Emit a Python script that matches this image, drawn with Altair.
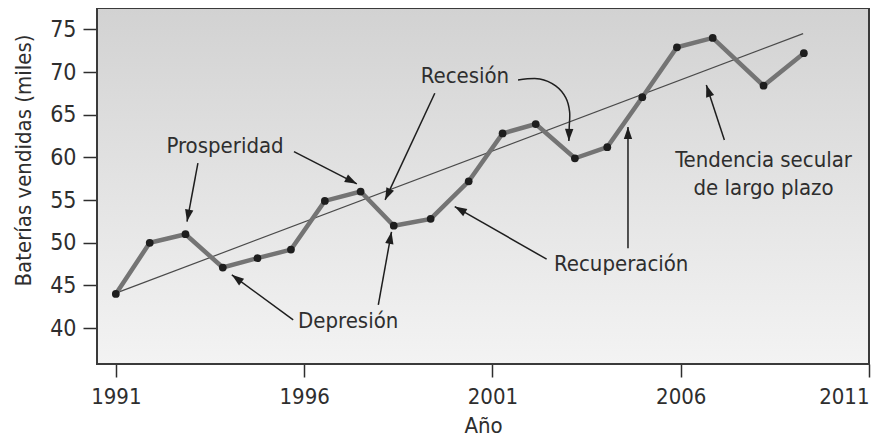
import math
import altair as alt
import pandas as pd

# ---------------- data ----------------
years = [1991.0, 1991.9, 1992.85, 1993.84, 1994.76, 1995.65, 1996.55, 1997.5,
         1998.38, 1999.36, 2000.37, 2001.27, 2002.15, 2003.19, 2004.05, 2004.98,
         2005.9, 2006.85, 2008.2, 2009.27]
sales = [44.0, 50.0, 51.0, 47.1, 48.2, 49.2, 54.9, 56.0,
         52.0, 52.8, 57.2, 62.8, 63.9, 59.9, 61.2, 67.05,
         72.9, 74.0, 68.4, 72.2]

trend_x = [1991.0, 2009.25]
trend_y = [44.1, 74.5]

x_ticks = [1991, 1996, 2001, 2006, 2011]
y_ticks = [40, 45, 50, 55, 60, 65, 70, 75]

label_text = ["Prosperidad", "Depresión", "Recesión", "Recuperación",
              "Tendencia secular", "de largo plazo"]
label_x = [1993.90, 1997.17, 2000.27, 2004.42, 2008.20, 2008.20]
label_y = [60.53, 40.04, 68.72, 46.71, 58.92, 55.61]

# straight arrows: start -> tip (data coordinates)
arrow_sx = [1993.18, 1995.73, 1995.71, 1997.97, 1999.47, 2002.44, 2004.60, 2007.16]
arrow_sy = [59.32, 60.68, 40.97, 42.73, 67.52, 48.08, 49.37, 62.05]
arrow_tx = [1992.89, 1997.40, 1994.08, 1998.32, 1998.15, 2000.00, 2004.60, 2006.68]
arrow_ty = [52.48, 56.90, 46.24, 51.28, 55.02, 54.24, 63.57, 68.49]

# curved arrow (Recesión -> 2003 dip)
curve_x = [2001.68, 2002.26, 2002.68, 2002.95, 2003.05, 2003.04, 2003.03]
curve_y = [69.07, 69.19, 68.37, 66.97, 65.33, 63.57, 61.93]

# ---------------- layout ----------------
W, H = 772, 356
X_DOM = [1990.5, 2011]
Y_DOM = [35.8, 77.5]
PX_X = W / (X_DOM[1] - X_DOM[0])
PX_Y = H / (Y_DOM[1] - Y_DOM[0])

FONT = "'Liberation Sans Narrow', 'DejaVu Sans Condensed', Roboto, sans-serif"
TXT = "#2e2e2e"

xs = alt.Scale(domain=X_DOM, nice=False, zero=False)
ys = alt.Scale(domain=Y_DOM, nice=False, zero=False)


def head_angle(sx, sy, tx, ty):
    dx = (tx - sx) * PX_X
    dy = -(ty - sy) * PX_Y
    return math.degrees(math.atan2(dx, -dy)) % 360


series_df = pd.DataFrame({"x": years, "y": sales})
trend_df = pd.DataFrame({"x": trend_x, "y": trend_y})
label_df = pd.DataFrame({"x": label_x, "y": label_y, "t": label_text})
arrow_df = pd.DataFrame({"sx": arrow_sx, "sy": arrow_sy, "tx": arrow_tx, "ty": arrow_ty})
curve_df = pd.DataFrame({"x": curve_x, "y": curve_y, "o": list(range(len(curve_x)))})

heads = [(tx, ty, head_angle(sx, sy, tx, ty))
         for sx, sy, tx, ty in zip(arrow_sx, arrow_sy, arrow_tx, arrow_ty)]
heads.append((curve_x[-1], curve_y[-1],
              head_angle(curve_x[-2], curve_y[-2], curve_x[-1], curve_y[-1])))
head_df = pd.DataFrame(heads, columns=["x", "y", "a"])

x_axis = alt.Axis(values=x_ticks, format="d", title="Año", titleY=68,
                  titleBaseline="alphabetic", labelPadding=9, tickSize=13,
                  labelFontSize=22)
y_axis = alt.Axis(values=y_ticks, title="Baterías vendidas (miles)",
                  titleX=-74, titleY=152, titleAngle=270, titleAlign="center",
                  titleBaseline="middle", labelPadding=7, tickSize=14)


def X(f):
    return alt.X(f, scale=xs, axis=x_axis)


def Y(f):
    return alt.Y(f, scale=ys, axis=y_axis)


background = alt.Chart(pd.DataFrame({"d": [0]})).mark_rect(
    fill=alt.Gradient(gradient="linear",
                      stops=[alt.GradientStop(color="#d2d2d2", offset=0),
                             alt.GradientStop(color="#e3e3e3", offset=0.5),
                             alt.GradientStop(color="#f3f3f3", offset=1)],
                      x1=0, x2=0, y1=0, y2=1),
    stroke="#3a3a3a", strokeWidth=2
).encode(x=alt.value(0), x2=alt.value(W), y=alt.value(0), y2=alt.value(H))

trend = alt.Chart(trend_df).mark_line(color="#4a4a4a", strokeWidth=1.2).encode(
    x=X("x:Q"), y=Y("y:Q"))

line = alt.Chart(series_df).mark_line(color="#747474", strokeWidth=4.5).encode(
    x=X("x:Q"), y=Y("y:Q"))

pts = alt.Chart(series_df).mark_circle(color="#1e1e1e", opacity=1, size=60).encode(
    x=X("x:Q"), y=Y("y:Q"))

arrows = alt.Chart(arrow_df).mark_rule(color="#1e1e1e", strokeWidth=1.5).encode(
    x=X("sx:Q"), y=Y("sy:Q"), x2="tx:Q", y2="ty:Q")

curve = alt.Chart(curve_df).mark_line(color="#1e1e1e", strokeWidth=1.5,
                                      interpolate="cardinal").encode(
    x=X("x:Q"), y=Y("y:Q"), order="o:Q")

heads_l = alt.Chart(head_df).mark_point(
    shape="M0,0L-0.38,1.1L0.38,1.1Z", filled=True, color="#1e1e1e",
    opacity=1, size=484, strokeWidth=0).encode(
    x=X("x:Q"), y=Y("y:Q"), angle=alt.Angle("a:Q", scale=None))

labels = alt.Chart(label_df).mark_text(
    font=FONT, fontSize=22, color=TXT, align="center", baseline="alphabetic").encode(
    x=X("x:Q"), y=Y("y:Q"), text="t:N")

chart = alt.layer(background, trend, line, pts, arrows, curve, heads_l, labels).properties(
    width=W, height=H,
    autosize=alt.AutoSizeParams(type="none"),
    padding={"left": 89, "top": 0, "right": 15, "bottom": 73},
).configure_view(stroke=None).configure_axis(
    domain=False, grid=False, labelFont=FONT, titleFont=FONT,
    labelFontSize=23, titleFontSize=22, labelColor=TXT, titleColor=TXT,
    titleFontWeight="normal", tickColor="#2e2e2e", tickWidth=1.5)

chart.save("out.html", embed_options={"renderer": "svg", "actions": False})
